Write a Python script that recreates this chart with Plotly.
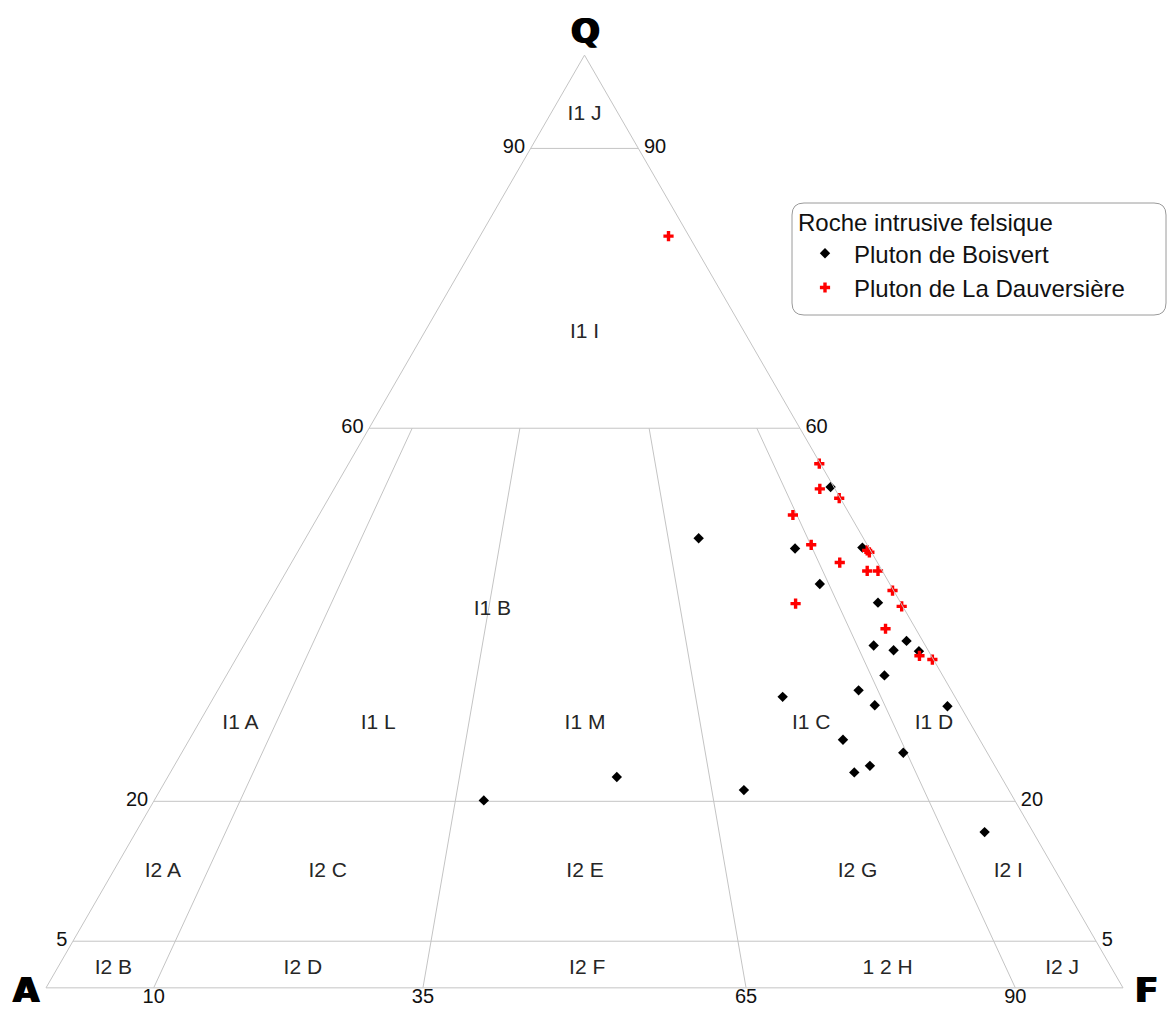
import plotly.graph_objects as go

# Compositions in % (Q = quartz, A = alkali feldspar, F = plagioclase)
boisvert_Q = [53.7, 48.2, 47.1, 47.2, 43.3, 41.3, 36.7, 36.2, 37.2, 36.1, 33.5, 31.2,
              31.9, 30.3, 30.2, 26.6, 25.2, 23.8, 23.1, 21.2, 16.7, 20.1, 22.6]
boisvert_A = [0.3, 15.3, 6.9, 0.6, 6.5, 2.1, 4.8, 3.2, 1.5, 0.9, 5.4, 16.0,
              8.6, 7.9, 1.2, 12.7, 7.8, 11.6, 13.4, 24.6, 4.5, 49.3, 35.7]
boisvert_F = [46.0, 36.5, 46.0, 52.2, 50.2, 56.6, 58.5, 60.6, 61.3, 63.0, 61.1, 52.8,
              59.5, 61.8, 68.6, 60.7, 67.0, 64.6, 63.5, 54.2, 78.8, 30.6, 41.7]

dauv_Q = [80.6, 56.2, 53.5, 52.5, 50.7, 47.5, 46.9, 46.7, 45.6, 44.7, 44.7, 42.6,
          40.9, 41.2, 38.5, 35.6, 35.2]
dauv_A = [1.9, 0.1, 1.4, 0.1, 5.3, 5.2, 0.3, 0.2, 3.5, 1.4, 0.4, 0.1,
          0.1, 9.8, 2.8, 1.1, 0.1]
dauv_F = [17.5, 43.7, 45.1, 47.4, 44.0, 47.3, 52.8, 53.1, 50.9, 53.9, 54.9, 57.3,
          59.0, 49.0, 58.7, 63.3, 64.7]

# Field boundaries
q_levels = [90, 60, 20, 5]          # horizontal Q limits
f_ratios = [10, 35, 65, 90]         # F/(A+F) limits, drawn up to Q = 60
ratio_top_q = 60

# Field names and where they are written (Q, A, F)
field_names = ["I1 J", "I1 I", "I1 B", "I1 A", "I1 L", "I1 M", "I1 C", "I1 D",
               "I2 A", "I2 C", "I2 E", "I2 G", "I2 I",
               "I2 B", "I2 D", "I2 F", "1 2 H", "I2 J"]
field_Q = [93.6, 70.2, 40.5, 28.3, 28.3, 28.3, 28.3, 28.3,
           12.5, 12.5, 12.5, 12.5, 12.5,
           2.1, 2.1, 2.1, 2.1, 2.1]
field_A = [3.2, 14.9, 38.3, 67.8, 55.0, 35.8, 14.8, 3.4,
           82.9, 67.6, 43.7, 18.4, 4.4,
           92.7, 75.1, 48.7, 20.8, 4.6]
field_F = [3.2, 14.9, 21.2, 3.9, 16.7, 35.9, 56.9, 68.3,
           4.6, 19.9, 43.8, 69.1, 83.1,
           5.2, 22.8, 49.2, 77.1, 93.3]

side_ticks = ["90", "60", "20", "5"]
base_ticks = ["10", "35", "65", "90"]

LINE = "#c4c4c4"
FONT = "Liberation Sans, Arial, sans-serif"
NBSP = "\u00a0"

fig = go.Figure()

# Horizontal Q boundaries
for q in q_levels:
    fig.add_trace(go.Scatterternary(
        a=[q, q], b=[100 - q, 0], c=[0, 100 - q], mode="lines",
        line=dict(color=LINE, width=1), showlegend=False, hoverinfo="skip"))

# F/(A+F) boundaries
for r in f_ratios:
    fig.add_trace(go.Scatterternary(
        a=[0, ratio_top_q],
        b=[100 - r, (100 - ratio_top_q) * (100 - r) / 100],
        c=[r, (100 - ratio_top_q) * r / 100],
        mode="lines", line=dict(color=LINE, width=1),
        showlegend=False, hoverinfo="skip"))

# Field names
fig.add_trace(go.Scatterternary(
    a=field_Q, b=field_A, c=field_F, mode="text", text=field_names,
    textposition="middle center", textfont=dict(family=FONT, size=21, color="#262626"),
    showlegend=False, hoverinfo="skip", cliponaxis=False))

# Tick values on the sides and the base
TICKFONT = dict(family=FONT, size=20, color="#111")
qv = [float(t) for t in side_ticks]
fig.add_trace(go.Scatterternary(
    a=qv, b=[100 - q for q in qv], c=[0] * len(qv), mode="text",
    text=[t + NBSP for t in side_ticks],
    textposition="middle left", textfont=TICKFONT,
    showlegend=False, hoverinfo="skip", cliponaxis=False))
fig.add_trace(go.Scatterternary(
    a=qv, b=[0] * len(qv), c=[100 - q for q in qv], mode="text",
    text=[NBSP + t for t in side_ticks],
    textposition="middle right", textfont=TICKFONT,
    showlegend=False, hoverinfo="skip", cliponaxis=False))
fv = [float(t) for t in base_ticks]
fig.add_trace(go.Scatterternary(
    a=[0] * len(fv), b=[100 - f for f in fv], c=fv, mode="text", text=base_ticks,
    textposition="bottom center", textfont=TICKFONT,
    showlegend=False, hoverinfo="skip", cliponaxis=False))

# Samples
fig.add_trace(go.Scatterternary(
    a=boisvert_Q, b=boisvert_A, c=boisvert_F, mode="markers",
    name="Pluton de Boisvert", cliponaxis=False,
    marker=dict(symbol="diamond", size=8, color="black")))
fig.add_trace(go.Scatterternary(
    a=dauv_Q, b=dauv_A, c=dauv_F, mode="markers",
    name="Pluton de La Dauversière", cliponaxis=False,
    marker=dict(symbol="cross", size=8.5, color="red")))

W, H = 1169, 1012
axis = dict(showticklabels=False, ticks="", showgrid=False, showline=True,
            linecolor=LINE, linewidth=1, title=dict(text=""))

VERTEX = dict(family="DejaVu Sans, Liberation Sans, sans-serif", size=34,
              color="black", weight="bold",
              shadow="1px 0 0 black, -1px 0 0 black")
fig.update_layout(
    width=W, height=H,
    margin=dict(l=0, r=0, t=0, b=0),
    paper_bgcolor="white", plot_bgcolor="white",
    ternary=dict(
        sum=100, bgcolor="white",
        domain=dict(x=[46 / W, 1123 / W], y=[1 - 988 / H, 1 - 55 / H]),
        aaxis=axis, baxis=axis, caxis=axis),
    legend=dict(
        x=796 / W, y=1 - 200 / H, xanchor="left", yanchor="top",
        bgcolor="rgba(0,0,0,0)", borderwidth=0,
        title=dict(text="Roche intrusive felsique", font=dict(family=FONT, size=24, color="#111")),
        font=dict(family=FONT, size=24, color="#111"),
        itemwidth=48),
    annotations=[
        dict(text="Q", x=585 / W, y=1 - 31 / H, xref="paper", yref="paper",
             xanchor="center", yanchor="middle", showarrow=False, font=VERTEX),
        dict(text="A", x=26 / W, y=1 - 990 / H, xref="paper", yref="paper",
             xanchor="center", yanchor="middle", showarrow=False, font=VERTEX),
        dict(text="F", x=1146 / W, y=1 - 990 / H, xref="paper", yref="paper",
             xanchor="center", yanchor="middle", showarrow=False, font=VERTEX),
    ],
)

# Rounded frame around the legend
x0, x1 = 792 / W, 1166 / W
y0, y1 = 1 - 315 / H, 1 - 203 / H
rx, ry = 12 / W, 12 / H
path = (f"M {x0 + rx},{y1} L {x1 - rx},{y1} Q {x1},{y1} {x1},{y1 - ry} "
        f"L {x1},{y0 + ry} Q {x1},{y0} {x1 - rx},{y0} "
        f"L {x0 + rx},{y0} Q {x0},{y0} {x0},{y0 + ry} "
        f"L {x0},{y1 - ry} Q {x0},{y1} {x0 + rx},{y1} Z")
fig.add_shape(type="path", path=path, xref="paper", yref="paper",
              line=dict(color="#9a9a9a", width=1), fillcolor="rgba(0,0,0,0)")

fig.write_html("out.html")
